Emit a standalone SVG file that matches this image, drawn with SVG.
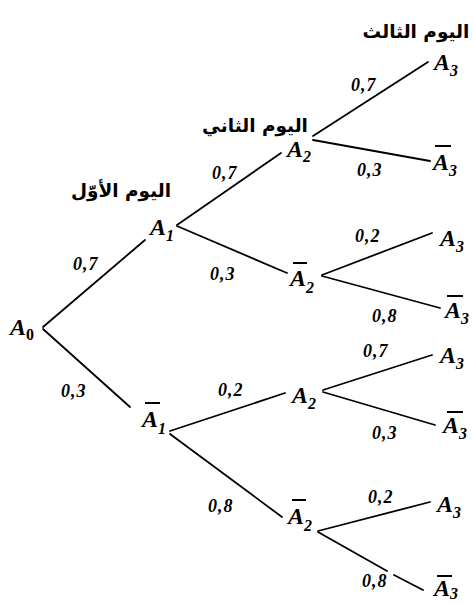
<svg xmlns="http://www.w3.org/2000/svg" width="474" height="603" viewBox="0 0 474 603">
<style>
.e{fill:none;stroke:#000;stroke-width:1.8;stroke-linecap:round}
.n{font-family:"Liberation Serif","Times New Roman",serif;font-weight:bold;font-style:italic;font-size:24px;fill:#000}
.s{font-size:16px}
.p{font-family:"Liberation Serif","Times New Roman",serif;font-weight:bold;font-style:italic;font-size:18px;letter-spacing:1px;fill:#000}
.ar{font-family:"DejaVu Sans",sans-serif;font-weight:bold;font-size:18.5px;text-anchor:middle;fill:#000}
.bar{stroke:#000;stroke-width:2}
</style>
<rect width="474" height="603" fill="#fff"/>
<g id="connectors">
<path class="e" d="M43,327 L145,240"/>
<path class="e" d="M43,329 L130,407"/>
<path class="e" d="M177,225 L281,153"/>
<path class="e" d="M177,226 L287,273"/>
<path class="e" d="M313,136 L428,62"/>
<path class="e" d="M313,140 L430,161"/>
<path class="e" d="M322,275 L432,233"/>
<path class="e" d="M322,276 L440,308"/>
<path class="e" d="M170,431 L285,393"/>
<path class="e" d="M170,434 L282,517"/>
<path class="e" d="M323,390 L432,355"/>
<path class="e" d="M323,392 L435,425"/>
<path class="e" d="M318,531 L430,502"/>
<path class="e" d="M318,532 L387,571 M394,575 L423,590"/>
</g>
<g id="labels">
<text class="p" x="73" y="270">0,7</text>
<text class="p" x="61" y="397">0,3</text>
<text class="p" x="212" y="179">0,7</text>
<text class="p" x="210" y="280">0,3</text>
<text class="p" x="351" y="91">0,7</text>
<text class="p" x="357" y="176">0,3</text>
<text class="p" x="355" y="242">0,2</text>
<text class="p" x="372" y="322">0,8</text>
<text class="p" x="363" y="357">0,7</text>
<text class="p" x="372" y="439">0,3</text>
<text class="p" x="218" y="396">0,2</text>
<text class="p" x="208" y="512">0,8</text>
<text class="p" x="368" y="503">0,2</text>
<text class="p" x="362" y="587">0,8</text>
<text class="ar" x="416" y="38">اليوم الثالث</text>
<text class="ar" x="255" y="132">اليوم الثاني</text>
<text class="ar" x="121" y="197">اليوم الأوّل</text>
</g>
<g id="A0"><text class="n" x="10" y="335">A<tspan class="s" font-style="normal" dy="5">0</tspan></text></g>
<g id="A1"><text class="n" x="150" y="235">A<tspan class="s" dy="6">1</tspan></text></g>
<g id="A1bar"><line class="bar" x1="145" y1="403" x2="160" y2="403"/><text class="n" x="142" y="427">A<tspan class="s" dy="7">1</tspan></text></g>
<g id="A2a"><text class="n" x="287" y="157">A<tspan class="s" dy="5">2</tspan></text></g>
<g id="A2bar_a"><line class="bar" x1="293" y1="263" x2="307" y2="263"/><text class="n" x="290" y="286">A<tspan class="s" dy="7">2</tspan></text></g>
<g id="A2b"><text class="n" x="292" y="403">A<tspan class="s" dy="6">2</tspan></text></g>
<g id="A2bar_b"><line class="bar" x1="292" y1="500" x2="306" y2="500"/><text class="n" x="288" y="524">A<tspan class="s" dy="7">2</tspan></text></g>
<g id="A3a"><text class="n" x="434" y="70">A<tspan class="s" dy="6">3</tspan></text></g>
<g id="A3bar_a"><line class="bar" x1="435" y1="146" x2="451" y2="146"/><text class="n" x="433" y="170">A<tspan class="s" dy="6">3</tspan></text></g>
<g id="A3b"><text class="n" x="440" y="246">A<tspan class="s" dy="6">3</tspan></text></g>
<g id="A3bar_b"><line class="bar" x1="447" y1="296" x2="463" y2="296"/><text class="n" x="445" y="318">A<tspan class="s" dy="6">3</tspan></text></g>
<g id="A3c"><text class="n" x="440" y="363">A<tspan class="s" dy="6">3</tspan></text></g>
<g id="A3bar_c"><line class="bar" x1="447" y1="412" x2="463" y2="412"/><text class="n" x="443" y="433">A<tspan class="s" dy="6">3</tspan></text></g>
<g id="A3d"><text class="n" x="437" y="512" font-weight="normal">A<tspan class="s" dy="6">3</tspan></text></g>
<g id="A3bar_d"><line class="bar" x1="437" y1="576" x2="452" y2="576"/><text class="n" x="434" y="596">A<tspan class="s" dy="3">3</tspan></text></g>
</svg>
